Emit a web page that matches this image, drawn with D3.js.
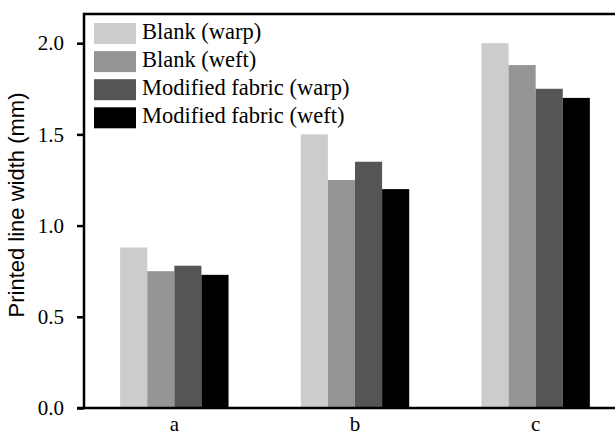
<!DOCTYPE html>
<html>
<head>
<meta charset="utf-8">
<script src="https://cdn.jsdelivr.net/npm/d3@7"></script>
<style>
	body { margin: 0; background: #fff; }
</style>
</head>
<body onload="onLoad()">
<div></div>
<script>
var samples = ["a", "b", "c"],
	seriesNames = ["Blank (warp)", "Blank (weft)", "Modified fabric (warp)", "Modified fabric (weft)"],
	blankWarp = [0.88, 1.50, 2.00],
	blankWeft = [0.75, 1.25, 1.88],
	modWarp = [0.78, 1.35, 1.75],
	modWeft = [0.73, 1.20, 1.70],
	yTicks = [0, 0.5, 1.0, 1.5, 2.0];

var colors = ["#cccccc", "#959595", "#555555", "#000000"];

var svgContainer,
	width = 615,
	height = 437,
	plot = {left: 84, right: 626, top: 14, bottom: 408},
	yMax = 2.16,
	serif = "Liberation Serif, Times New Roman, serif";

function onLoad() {
	svgContainer = d3.select("div")
	.append("svg")
	.attr("width", width)
	.attr("height", height);

	var series = [blankWarp, blankWeft, modWarp, modWeft];

	var xScale = d3.scaleBand().domain(samples).range([plot.left, plot.right]).paddingInner(0.4).paddingOuter(0.2);
	var x0Scale = d3.scaleBand().domain(samples).range([plot.left, plot.right]);
	var subScale = d3.scaleBand().domain(d3.range(series.length)).range([0, xScale.bandwidth()]);
	var yScale = d3.scaleLinear().domain([0, yMax]).range([plot.bottom, plot.top]);

	drawBars(series, xScale, subScale, yScale);
	drawAxes(x0Scale, yScale);
	drawLegend();
}

function drawBars(series, xScale, subScale, yScale) {
	series.forEach((values, s) => {
		svgContainer.append("g")
		.selectAll("rect")
		.data(values)
		.enter()
		.append("rect")
		.attr("x", (d, i) => xScale(samples[i]) + subScale(s))
		.attr("y", d => yScale(d))
		.attr("width", subScale.bandwidth())
		.attr("height", d => yScale(0) - yScale(d))
		.style("fill", colors[s]);
	});
}

function drawAxes(xScale, yScale) {
	var yAxis = d3.axisLeft(yScale).tickValues(yTicks).tickFormat(d3.format(".1f")).tickSize(7).tickPadding(13);
	var xAxis = d3.axisBottom(xScale).tickSize(0).tickPadding(8);

	// frame top line
	svgContainer.append("line")
	.attr("x1", plot.left).attr("x2", width + 5)
	.attr("y1", plot.top).attr("y2", plot.top)
	.attr("stroke", "#000").attr("stroke-width", 2.5);

	var yAxisGroup = svgContainer.append("g")
	.attr("transform", "translate(" + plot.left + ",0)")
	.call(yAxis);
	yAxisGroup.select(".domain").remove();
	yAxisGroup.selectAll(".tick line").attr("stroke-width", 2.5);
	yAxisGroup.selectAll(".tick text")
	.attr("font-family", serif).attr("font-size", 21).attr("fill", "#000");

	svgContainer.append("line")
	.attr("x1", plot.left).attr("x2", plot.left)
	.attr("y1", plot.top - 1.2).attr("y2", plot.bottom)
	.attr("stroke", "#000").attr("stroke-width", 2.5);

	var xAxisGroup = svgContainer.append("g")
	.attr("transform", "translate(0," + plot.bottom + ")")
	.call(xAxis);
	xAxisGroup.select(".domain").remove();
	xAxisGroup.selectAll(".tick text")
	.attr("font-family", serif).attr("font-size", 21).attr("fill", "#000");

	svgContainer.append("line")
	.attr("x1", plot.left - 7).attr("x2", width + 5)
	.attr("y1", plot.bottom).attr("y2", plot.bottom)
	.attr("stroke", "#000").attr("stroke-width", 2.5);

	svgContainer.append("text")
	.attr("transform", "translate(24," + 205 + ") rotate(-90)")
	.attr("text-anchor", "middle")
	.attr("font-family", "Liberation Sans, Arial, sans-serif")
	.attr("font-size", 22)
	.text("Printed line width (mm)");
}

function drawLegend() {
	var legend = svgContainer.append("g")
	.attr("transform", "translate(94,23)");

	var rows = legend.selectAll("g")
	.data(seriesNames)
	.enter()
	.append("g")
	.attr("transform", (d, i) => "translate(0," + (i * 28.1) + ")");

	rows.append("rect")
	.attr("width", 42)
	.attr("height", 21)
	.style("fill", (d, i) => colors[i]);

	rows.append("text")
	.attr("x", 48)
	.attr("y", 16)
	.attr("font-family", serif)
	.attr("font-size", 22.5)
	.text(d => d);
}
</script>
</body>
</html>
